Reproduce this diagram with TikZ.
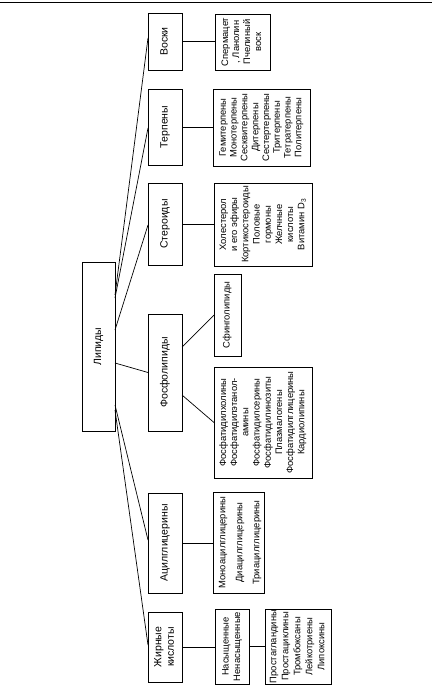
\documentclass[tikz,border=0pt]{standalone}
\usepackage{fontspec}
\setmainfont{Liberation Sans}
\usepackage{graphicx}
\newcommand\vt[1]{\rotatebox{90}{\begin{tabular}{@{}c@{}}#1\end{tabular}}}
\newcommand\mybox[7][]{%
  \node[box,#1,minimum width={(#4-#2)*1pt},minimum height={(#5-#3)*1pt}]
    (#7) at ({(#2+#4)/2},{(#3+#5)/2}) {#6};}
\tikzset{
  box/.style={draw,line width=0.7pt,inner sep=0pt,outer sep=0pt,font=\fontsize{10.5}{12.5}\selectfont},
  small/.style={font=\fontsize{9.4}{11}\selectfont},
  link/.style={line width=0.7pt}
}
\begin{document}
\begin{tikzpicture}[x=1pt,y=-1pt]
\useasboundingbox (0,0) rectangle (432,685);
\coordinate (tl) at (0,2);
\coordinate (tr) at (432,2);
\draw[line width=0.9pt] (tl) -- (tr);
% main
\mybox{82}{262}{115}{431}{\vt{Липиды}}{lip}
\mybox{148}{13}{182}{70}{\vt{Воски}}{vos}
\mybox{148}{89}{182}{165}{\vt{Терпены}}{ter}
\mybox{148}{183}{182}{265}{\vt{Стероиды}}{ste}
\mybox{148}{314}{182}{431}{\vt{Фосфолипиды}}{fos}
\mybox{148}{493}{182}{593}{\vt{Ацилглицерины}}{aci}
\mybox{148}{612}{182}{682}{\vt{Жирные\\кислоты}}{zhk}
% children
\mybox[small]{215}{14}{270}{70}{\vt{Спермацет\\, Ланолин\\Пчелиный\\воск}}{vosc}
\mybox[font=\fontsize{9.4}{10.8}\selectfont]{213}{89}{310}{166}{\vt{Гемитерпены\\Монотерпены\\Сесквитерпены\\Дитерпены\\Сестертерпены\\Тритерпены\\Тетратерпены\\Политерпены}}{terc}
\mybox[font=\fontsize{9.4}{11.2}\selectfont]{214}{183}{312}{266}{\vt{Холестерол\\и его эфиры\\Кортикостероиды\\Половые\\гормоны\\Желчные\\кислоты\\Витамин D\textsubscript{3}}}{stec}
\mybox[small]{214}{274}{241}{356}{\vt{Сфинголипиды}}{sfi}
\mybox[font=\fontsize{9.4}{11.2}\selectfont]{214}{367}{312}{478}{\vt{Фосфатидилхолины\\Фосфатидилэтанол-\\амины\\Фосфатидилсерины\\Фосфатидилинозиты\\Плазмалогены\\Фосфатидилглицерины\\Кардиолипины}}{fosc}
\mybox[font=\fontsize{9.4}{17}\selectfont]{214}{492}{264}{593}{\vt{Моноацилглицерины\\Диацилглицерины\\Триацилглицерины}}{acic}
\mybox[font=\fontsize{9.4}{11.5}\selectfont]{215}{609}{249}{684}{\vt{Насыщенные\\Ненасыщенные}}{nas}
\mybox[font=\fontsize{9.4}{12}\selectfont]{265}{609}{331}{684}{\vt{Простагландины\\Простациклины\\Тромбоксаны\\Лейкотриены\\Липоксины}}{pro}
% fan connectors
\draw[link] ([yshift=-33pt]lip.north east) -- ([yshift=-25pt]vos.north west);
\draw[link] ([yshift=-36pt]lip.north east) -- ([yshift=-39pt]ter.north west);
\draw[link] ([yshift=-68pt]lip.north east) -- ([yshift=-42pt]ste.north west);
\draw[link] ([yshift=-101pt]lip.north east) -- (fos.west);
\draw[link] ([yshift=-143pt]lip.north east) -- ([yshift=-47pt]aci.north west);
\draw[link] ([yshift=-148pt]lip.north east) -- ([yshift=-33pt]zhk.north west);
% child connectors
\draw[link] (vos.east) -- (vos.east -| vosc.west);
\draw[link] (ter.east) -- (ter.east -| terc.west);
\draw[link] (ste.east) -- (ste.east -| stec.west);
\draw[link] ([yshift=-33pt]fos.north east) -- ([yshift=-41pt]sfi.north west);
\draw[link] ([yshift=-81pt]fos.north east) -- (fosc.west);
\draw[link] (aci.east) -- (aci.east -| acic.west);
\draw[link] (zhk.east) -- (zhk.east -| nas.west);
\draw[link] (nas.east) -- (nas.east -| pro.west);
\end{tikzpicture}
\end{document}
